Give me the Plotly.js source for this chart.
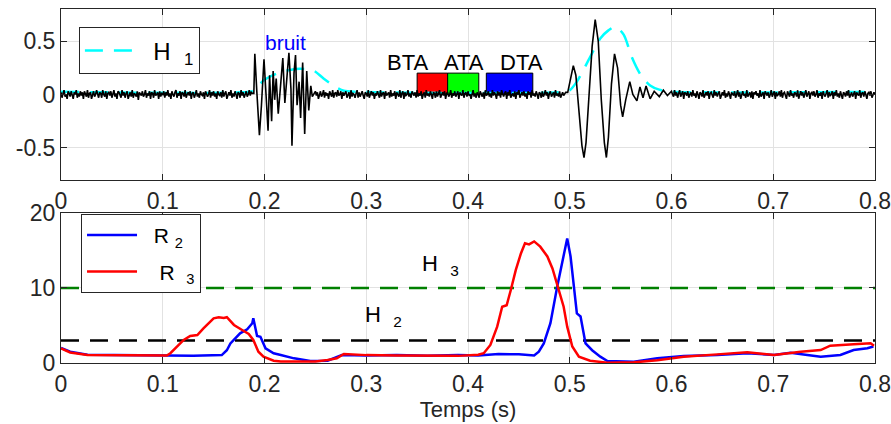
<!DOCTYPE html>
<html>
<head>
<meta charset="utf-8">
<script src="https://cdn.plot.ly/plotly-3.0.1.min.js"></script>
<style>html,body{margin:0;padding:0;background:#fff;}#chart{width:891px;height:424px;}</style>
</head>
<body>
<div id="chart"></div>
<script>
// ---------- DATA ----------
// Black signal: noise segments sampled every 1 ms, burst ("bruit") and wave given as (t, v)
var noiseStep = 0.001;
var noiseA_start = 0.0;
var noiseA = [0.02,-0.03,0.01,0.04,-0.02,0.00,-0.04,0.03,0.01,-0.02,0.03,-0.01,-0.04,0.02,0.00,0.04,-0.03,0.01,-0.02,0.03,
-0.01,0.02,-0.04,0.03,0.00,-0.02,0.04,-0.03,0.01,0.02,-0.04,0.01,0.03,-0.02,0.00,0.04,-0.01,-0.03,0.02,0.01,
-0.03,0.04,0.00,-0.02,0.03,-0.04,0.01,0.02,-0.01,0.03,-0.03,0.00,0.04,-0.02,0.01,-0.04,0.03,0.02,-0.01,-0.03,
0.04,-0.01,0.02,-0.03,0.01,0.03,-0.04,0.00,0.02,-0.02,0.04,-0.03,0.01,0.00,-0.02,0.03,-0.05,0.02,0.01,-0.01,
0.03,-0.02,0.00,0.04,-0.03,0.01,-0.01,0.03,-0.04,0.02,0.01,-0.03,0.04,-0.01,0.00,0.02,-0.04,0.03,-0.02,0.01,
0.00,0.03,-0.03,0.02,-0.01,0.04,-0.02,0.01,-0.04,0.03,0.00,-0.02,0.02,0.04,-0.03,0.01,-0.01,0.03,-0.04,0.02,
0.01,-0.02,0.04,-0.03,0.00,0.02,-0.01,0.03,-0.04,0.01,0.02,-0.03,0.00,0.04,-0.02,0.01,-0.03,0.03,0.00,-0.01,
0.02,-0.04,0.03,0.01,-0.02,0.00,0.04,-0.03,0.02,-0.01,0.03,-0.02,0.01,-0.04,0.03,0.00,-0.01,0.02,-0.03,0.04,
-0.02,0.01,0.03,-0.04,0.00,0.02,-0.01,0.04,-0.03,0.01,-0.02,0.03,0.00,-0.04,0.02,0.01,-0.03,0.04,-0.01,0.02,
-0.03,0.01,0.03,-0.02,0.00,0.04,-0.01,0.02,0.01];
var burstT = [0.1895,0.1905,0.1925,0.1950,0.1970,0.1995,0.2015,0.2035,0.2050,0.2070,0.2085,0.2100,0.2115,0.2135,0.2155,0.2180,0.2200,0.2215,0.2240,0.2260,0.2270,0.2290,0.2305,0.2320,0.2340,0.2355,0.2375,0.2395,0.2415,0.2435,0.2455,0.2470];
var burstV = [0.01,0.38,0.02,-0.38,-0.10,0.33,0.00,-0.34,0.18,-0.25,0.22,-0.05,0.15,-0.18,0.05,0.34,-0.08,0.10,0.39,0.05,-0.48,0.20,0.37,-0.10,0.12,-0.22,0.30,-0.37,0.22,-0.15,0.08,-0.02];
var noiseB_start = 0.250;
var noiseB = [0.03,-0.01,0.02,-0.04,0.01,0.03,-0.02,0.00,0.04,-0.03,0.02,-0.01,0.01,-0.04,0.03,0.00,-0.02,0.04,-0.03,0.01,
0.02,-0.02,0.04,-0.01,0.00,0.03,-0.04,0.02,-0.01,0.01,0.03,-0.03,0.00,0.02,-0.04,0.04,-0.02,0.01,0.00,-0.03,
0.01,0.04,-0.03,0.02,-0.02,0.00,0.03,-0.01,-0.04,0.02,0.01,-0.02,0.04,-0.03,0.00,0.03,-0.01,0.02,-0.04,0.01,
-0.01,0.03,0.00,-0.03,0.04,-0.02,0.01,0.02,-0.04,0.03,-0.01,0.00,0.02,-0.03,0.04,-0.02,0.01,-0.01,0.03,-0.04,
0.02,0.00,-0.02,0.04,-0.03,0.01,0.03,-0.04,0.02,-0.01,0.00,0.04,-0.02,0.01,-0.03,0.03,0.00,-0.01,0.02,-0.03,
0.04,-0.02,0.01,-0.01,0.03,-0.04,0.00,0.02,-0.03,0.04,-0.01,0.01,-0.02,0.03,0.00,-0.04,0.02,0.01,-0.03,0.03,
-0.02,0.01,0.04,-0.03,0.00,0.02,-0.01,0.03,-0.04,0.01,0.02,-0.02,0.00,0.04,-0.03,0.01,-0.01,0.03,-0.02,0.00,
0.03,-0.04,0.02,0.00,-0.01,0.04,-0.03,0.01,0.02,-0.02,0.03,-0.01,0.00,-0.04,0.02,0.04,-0.02,0.01,-0.03,0.02,
0.00,-0.03,0.03,0.01,-0.02,0.02,-0.04,0.04,-0.01,0.00,0.03,-0.02,0.01,-0.03,0.04,-0.01,0.02,0.00,-0.04,0.03,
-0.01,0.02,-0.03,0.04,0.00,-0.02,0.01,0.03,-0.04,0.02,-0.01,0.04,-0.03,0.00,0.01,-0.02,0.03,-0.04,0.02,0.01,
0.04,-0.03,0.00,0.02,-0.01,0.03,-0.02,0.01,-0.04,0.03,0.00,0.02,-0.03,0.04,-0.01,0.01,-0.02,0.03,0.00,-0.04,
0.02,0.01,-0.03,0.03,-0.02,0.00,0.04,-0.01,0.02,-0.04,0.01,0.03,-0.02,0.00,0.02,-0.03,0.04,-0.01,0.01,-0.02,
0.03,-0.03,0.01,0.02,-0.01,0.00,0.02];
var waveT = [0.498,0.501,0.5035,0.506,0.509,0.512,0.514,0.516,0.519,0.522,0.525,0.528,0.531,0.534,0.536,0.538,0.541,0.544,0.547,0.550,0.552,0.555,0.559,0.562,0.566,0.569,0.572,0.575,0.579,0.583,0.588,0.592,0.596];
var waveV = [0.02,0.15,0.27,0.18,-0.15,-0.48,-0.59,-0.45,0.00,0.45,0.70,0.50,-0.05,-0.45,-0.59,-0.40,0.10,0.38,0.25,-0.10,-0.21,-0.05,0.12,0.00,-0.06,0.07,-0.03,0.08,-0.04,0.03,-0.02,0.04,-0.01];
var noiseC_start = 0.600;
var noiseC = [0.03,0.00,-0.02,0.04,-0.01,0.02,-0.03,0.01,0.04,-0.02,0.00,0.03,-0.04,0.02,0.01,-0.01,0.03,-0.03,0.00,0.02,
-0.02,0.04,-0.01,0.01,-0.03,0.03,0.00,-0.04,0.02,0.01,-0.02,0.04,-0.03,0.00,0.02,-0.01,0.03,-0.04,0.01,0.02,
0.00,-0.03,0.04,-0.01,0.02,-0.02,0.01,0.03,-0.04,0.00,0.02,-0.01,0.04,-0.03,0.01,-0.02,0.03,0.00,-0.04,0.02,
0.01,-0.01,0.03,-0.03,0.00,0.04,-0.02,0.02,-0.04,0.01,0.03,-0.01,0.00,-0.03,0.04,-0.02,0.01,0.02,-0.03,0.03,
-0.04,0.02,0.00,0.03,-0.01,0.01,-0.03,0.04,-0.02,0.00,0.02,-0.04,0.03,0.01,-0.01,0.02,-0.03,0.00,0.04,-0.02,
0.01,0.03,-0.04,0.02,-0.01,0.00,0.03,-0.02,0.04,-0.03,0.01,0.02,-0.01,-0.04,0.03,0.00,-0.02,0.04,-0.01,0.01,
-0.03,0.02,0.01,-0.02,0.04,-0.04,0.00,0.03,-0.01,0.02,-0.03,0.01,0.04,-0.02,0.00,0.03,-0.04,0.01,0.02,-0.01,
0.03,-0.02,0.00,0.04,-0.03,0.01,-0.01,0.02,-0.04,0.03,0.00,-0.02,0.01,0.04,-0.03,0.02,-0.01,0.00,0.03,-0.04,
0.02,-0.01,0.04,-0.02,0.01,-0.03,0.03,0.00,-0.04,0.02,0.01,-0.02,0.03,-0.01,0.04,-0.03,0.00,0.02,-0.02,0.01,
0.03,-0.04,0.02,0.00,-0.01,0.04,-0.03,0.01,0.02,-0.02,0.03,0.00,-0.04,0.01,0.02,-0.01,0.03,-0.03,0.01,0.02,
0.00];

// H1 envelope (cyan dashed)
var h1T = [0,0.185,0.190,0.199,0.212,0.225,0.235,0.248,0.258,0.270,0.278,0.290,0.495,0.500,0.507,0.520,0.530,0.538,0.545,0.553,0.561,0.570,0.579,0.588,0.598,0.800];
var h1V = [0.025,0.025,0.04,0.13,0.195,0.23,0.24,0.225,0.15,0.07,0.035,0.025,0.025,0.04,0.12,0.35,0.525,0.60,0.635,0.56,0.35,0.18,0.085,0.045,0.028,0.025];

// R2 (blue)
var r2T = [0,0.009,0.026,0.065,0.104,0.130,0.158,0.163,0.1665,0.176,0.183,0.188,0.189,0.1927,0.196,0.201,0.209,0.216,0.229,0.245,0.262,0.276,0.300,0.330,0.360,0.390,0.410,0.430,0.450,0.465,0.4696,0.4745,0.481,0.4877,0.494,0.4975,0.5008,0.504,0.507,0.5106,0.5155,0.522,0.530,0.537,0.563,0.586,0.612,0.645,0.6745,0.7007,0.717,0.7335,0.7466,0.766,0.779,0.7925,0.7984];
var r2V = [2.0,1.5,1.1,1.0,1.0,0.95,1.05,1.7,2.6,3.96,4.49,5.29,5.96,3.6,3.5,1.96,1.29,1.07,0.62,0.27,0.3,1.07,1.0,1.05,0.95,1.05,1.0,1.2,1.15,1.0,1.5,2.6,5.3,10.2,14.2,16.6,14.2,10.2,6.6,6.2,2.6,1.7,0.84,0.27,0.18,0.62,0.93,1.07,1.3,1.07,1.38,1.07,0.84,1.07,1.73,1.96,2.2];

// R3 (red)
var r3T = [0,0.009,0.026,0.065,0.104,0.1075,0.114,0.1206,0.127,0.134,0.140,0.150,0.155,0.160,0.163,0.170,0.178,0.1845,0.189,0.194,0.199,0.209,0.216,0.235,0.250,0.262,0.271,0.278,0.300,0.330,0.360,0.390,0.410,0.4155,0.422,0.4287,0.4336,0.438,0.442,0.447,0.452,0.456,0.460,0.465,0.471,0.478,0.483,0.488,0.494,0.4975,0.5025,0.509,0.520,0.537,0.563,0.586,0.612,0.645,0.6745,0.7007,0.727,0.7466,0.756,0.779,0.7957,0.799];
var r3V = [1.96,1.4,1.07,1.0,1.0,1.3,2.2,3.07,3.6,3.73,4.6,5.96,6.1,6.0,6.1,5.07,4.4,3.87,3.07,1.5,0.84,0.31,0.2,0.15,0.2,0.4,0.62,1.2,1.05,1.0,1.0,0.95,1.1,1.3,2.4,4.84,7.5,7.7,9.7,12.4,14.6,15.96,15.8,16.2,15.5,14.2,12.6,10.2,7.5,4.84,2.2,0.84,0.3,0.04,0.09,0.36,0.84,1.15,1.42,1.07,1.51,1.73,2.31,2.49,2.62,2.3];

// Thresholds
var H2 = 3, H3 = 10;
var tRange = [0, 0.8];

// Phase boxes
var phaseNames = ['BTA','ATA','DTA'];
var phaseStart = [0.350, 0.380, 0.418];
var phaseEnd   = [0.380, 0.4106, 0.4637];
var phaseTop = 0.2;

// ---------- BUILD ----------
var phaseColors = ['#ff0000','#00ff00','#0000ff'];
var phaseLabelShift = [-0.024, 0.001, 0.012];
function seg(start, vals){ var t=[]; for (var i=0;i<vals.length;i++) t.push(+(start+i*noiseStep).toFixed(4)); return t; }
var sigT = [].concat(seg(noiseA_start,noiseA), burstT, seg(noiseB_start,noiseB), waveT, seg(noiseC_start,noiseC));
var sigV = [].concat(noiseA, burstV, noiseB, waveV, noiseC);

var traces = [
  {x:h1T, y:h1V, xaxis:'x', yaxis:'y', mode:'lines', line:{color:'#00ffff', width:2.5, dash:'18px,11px', shape:'spline', smoothing:0.8}, name:'  H  <sub>1</sub>', legend:'legend'},
  {x:sigT, y:sigV, xaxis:'x', yaxis:'y', mode:'lines', line:{color:'#000000', width:1.6}, showlegend:false},
  {x:tRange, y:[H3,H3], xaxis:'x2', yaxis:'y2', mode:'lines', line:{color:'#008000', width:2.5, dash:'18px,11px'}, showlegend:false},
  {x:tRange, y:[H2,H2], xaxis:'x2', yaxis:'y2', mode:'lines', line:{color:'#000000', width:2.5, dash:'18px,11px'}, showlegend:false},
  {x:r2T, y:r2V, xaxis:'x2', yaxis:'y2', mode:'lines', line:{color:'#0000ff', width:2.5}, name:'  R <sub>2</sub>', legend:'legend2', legendgroup:'a'},
  {x:r3T, y:r3V, xaxis:'x2', yaxis:'y2', mode:'lines', line:{color:'#ff0000', width:2.5}, name:'   R  <sub>3</sub>', legend:'legend2', legendgroup:'b'}
];

var axCommon = {ticks:'inside', ticklen:6, tickcolor:'#262626', showline:true, linecolor:'#262626', linewidth:1, mirror:'ticks', showgrid:true, gridcolor:'#e2e2e2', gridwidth:1, zeroline:false, tickfont:{size:23, color:'#262626'}};
function ax(o){ var r={}; for (var k in axCommon) r[k]=axCommon[k]; for (var k2 in o) r[k2]=o[k2]; return r; }

var shapes = [];
var annotations = [];
for (var i=0;i<phaseNames.length;i++){
  shapes.push({type:'rect', xref:'x', yref:'y', x0:phaseStart[i], x1:phaseEnd[i], y0:0, y1:phaseTop, fillcolor:phaseColors[i], line:{color:'#000000', width:1}, layer:'between'});
  annotations.push({xref:'x', yref:'y', x:(phaseStart[i]+phaseEnd[i])/2 + phaseLabelShift[i], y:0.30, text:phaseNames[i], showarrow:false, font:{size:22, color:'#000000'}});
}
annotations.push({xref:'x', yref:'y', x:0.2206, y:0.49, text:'bruit', showarrow:false, font:{size:21, color:'#0000ff'}});
annotations.push({xref:'x2', yref:'y2', x:0.373, y:13.1, text:'H  <sub>3</sub>', showarrow:false, font:{size:22, color:'#000000'}});
annotations.push({xref:'x2', yref:'y2', x:0.317, y:6.3, text:'H  <sub>2</sub>', showarrow:false, font:{size:22, color:'#000000'}});

var layout = {
  width:891, height:424,
  margin:{l:61, r:16, t:9, b:61},
  paper_bgcolor:'#ffffff', plot_bgcolor:'#ffffff',
  font:{family:'Liberation Sans, Arial, sans-serif', color:'#262626', size:21},
  showlegend:true,
  xaxis: ax({domain:[0,1], anchor:'y', range:tRange, tick0:0, dtick:0.1}),
  yaxis: ax({domain:[0.517,1], anchor:'x', range:[-0.8,0.8], tickvals:[-0.5,0,0.5], ticktext:['-0.5','0','0.5']}),
  xaxis2: ax({domain:[0,1], anchor:'y2', range:tRange, tick0:0, dtick:0.1, title:{text:'Temps (s)', font:{size:22, color:'#262626'}, standoff:6}}),
  yaxis2: ax({domain:[0,0.424], anchor:'x2', range:[0,20], tickvals:[0,10,20]}),
  legend:{x:0.022, y:0.948, xanchor:'left', yanchor:'top', bordercolor:'#262626', borderwidth:1, bgcolor:'#ffffff', font:{size:24, color:'#000000'}, itemwidth:50},
  legend2:{x:0.0246, y:0.421, xanchor:'left', yanchor:'top', bordercolor:'#262626', borderwidth:1, bgcolor:'#ffffff', font:{size:21, color:'#000000'}, traceorder:'grouped', tracegroupgap:6, itemwidth:50},
  shapes:shapes,
  annotations:annotations
};

Plotly.newPlot('chart', traces, layout, {staticPlot:true, displayModeBar:false});
</script>
</body>
</html>
